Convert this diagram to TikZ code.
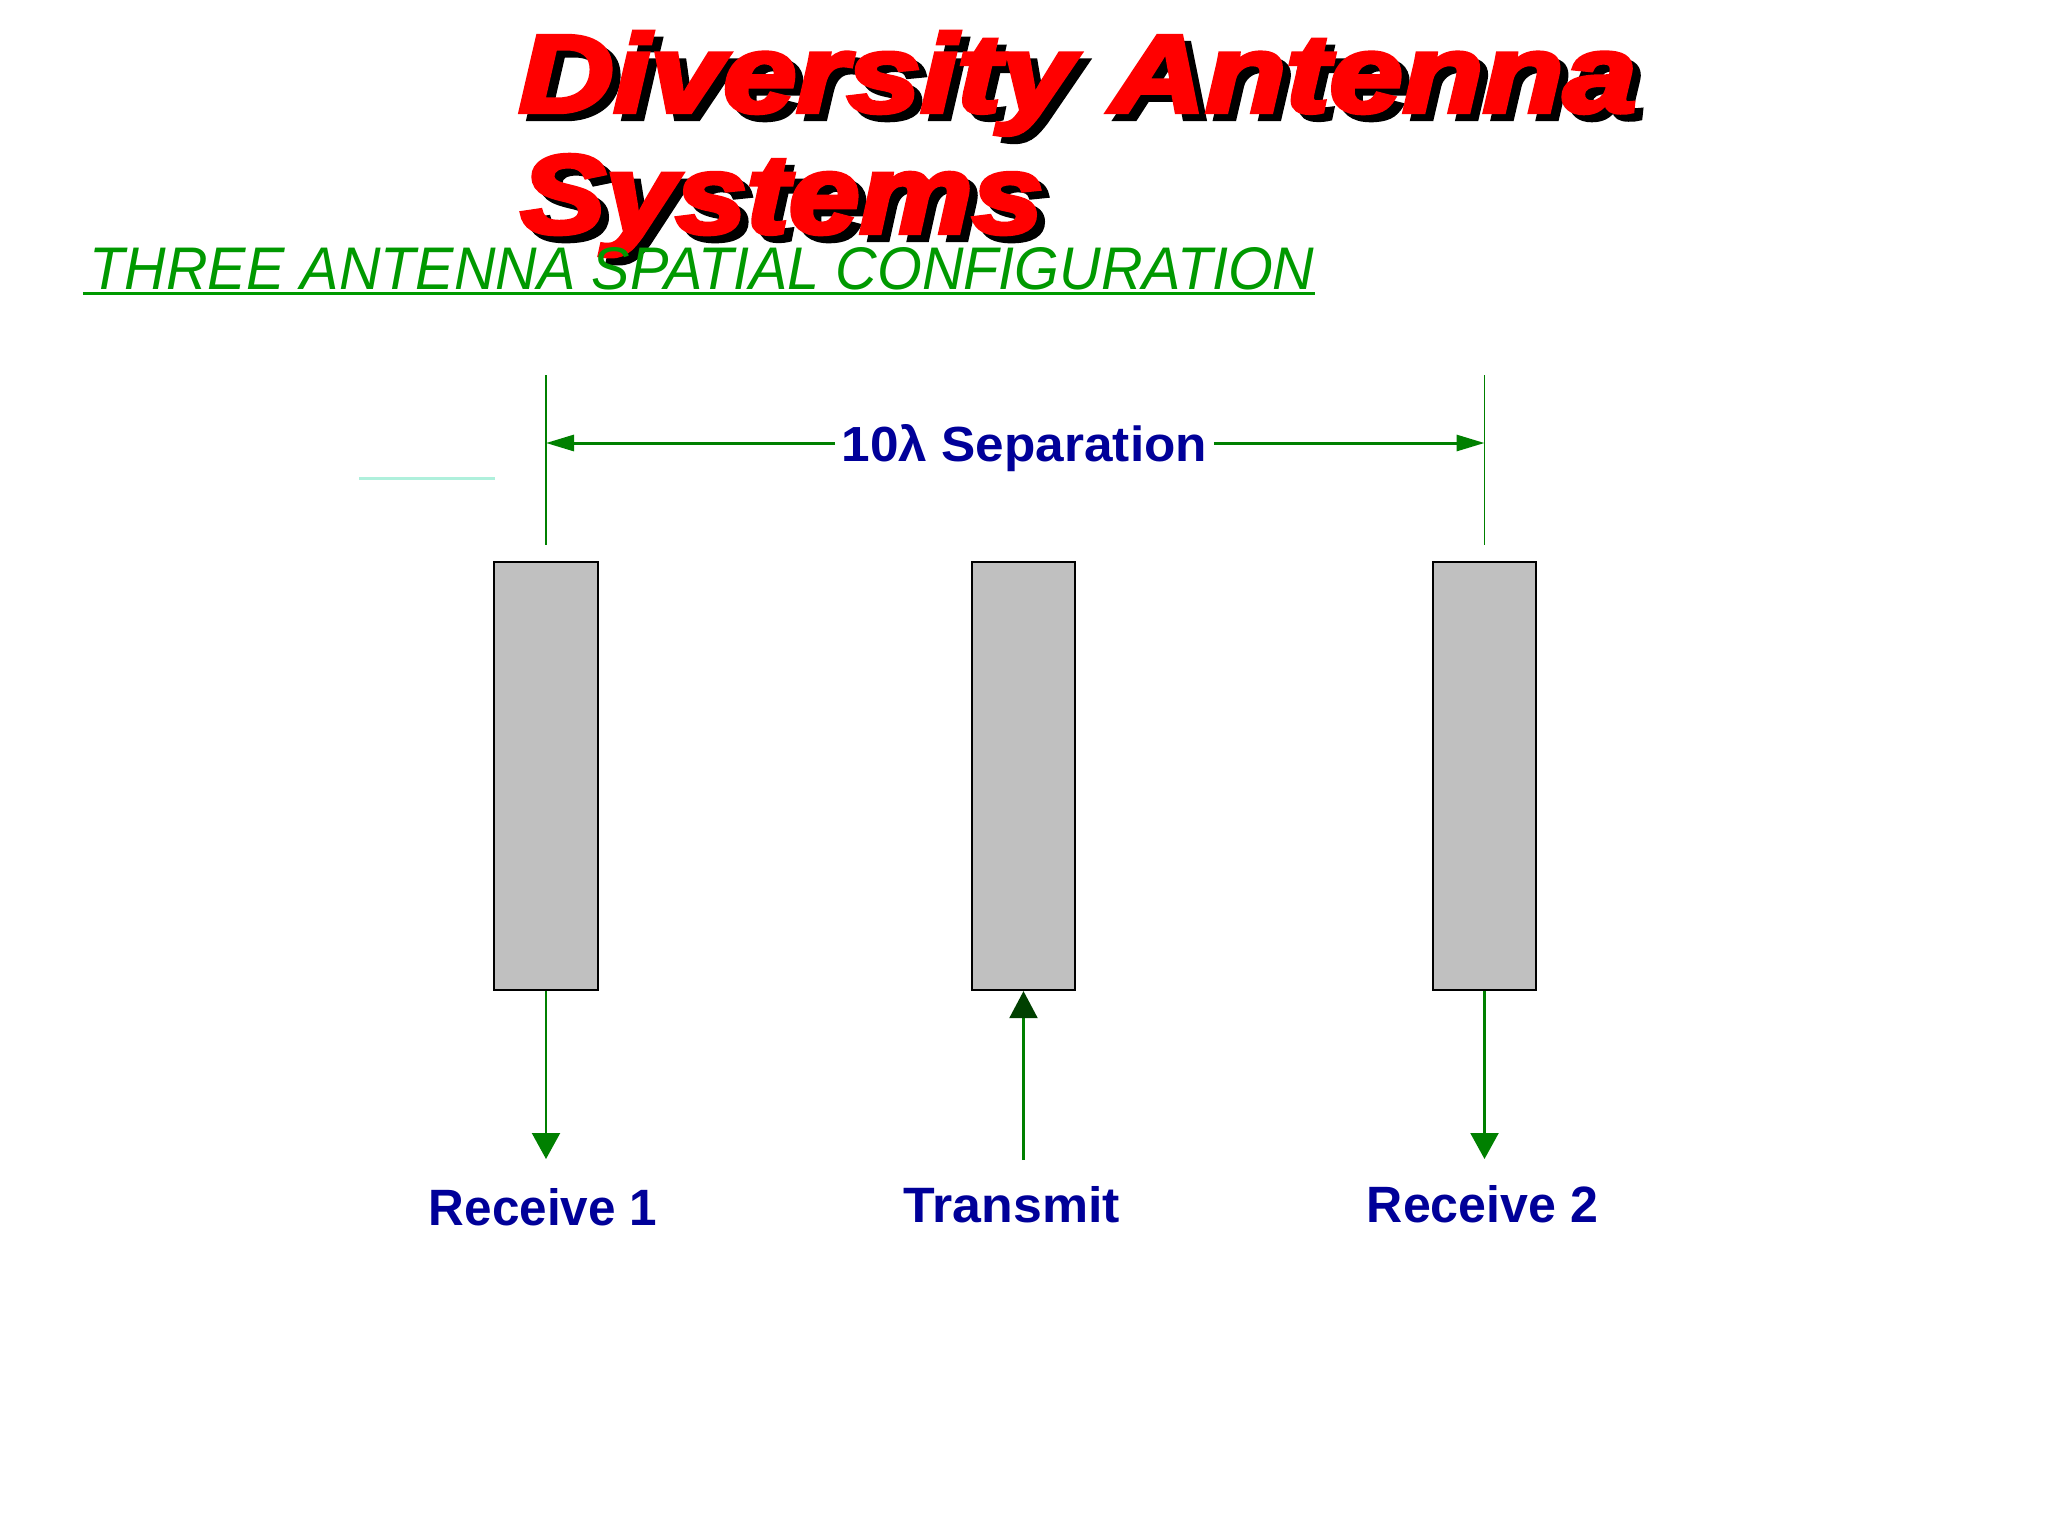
\documentclass[tikz,border=0pt]{standalone}
\usepackage{fontspec}
\setmainfont{Liberation Sans}
\newfontfamily\titlefont{Liberation Sans}[BoldItalicFeatures={FakeBold=4}]
\usetikzlibrary{arrows.meta}
\definecolor{titlered}{RGB}{255,0,0}
\definecolor{subgreen}{RGB}{0,153,0}
\definecolor{arrowgreen}{RGB}{0,128,0}
\definecolor{darkgreen}{RGB}{0,64,0}
\definecolor{labelblue}{RGB}{0,0,153}
\definecolor{boxgray}{RGB}{192,192,192}
\definecolor{paleaqua}{RGB}{175,240,220}
\begin{document}
\begin{tikzpicture}[x=0.01cm,y=-0.01cm,
  antbox/.style={draw=black, fill=boxgray, line width=0.02cm, minimum width=1.03cm, minimum height=4.28cm, inner sep=0pt},
  extline/.style={draw=arrowgreen, line width=0.018cm},
  dimarrow/.style={draw=arrowgreen, line width=0.03cm, -{Triangle[length=0.28cm,width=0.16cm]}},
  feedarrow/.style={draw=arrowgreen, line width=0.022cm, -{Triangle[length=0.26cm,width=0.28cm]}},
  txarrow/.style={draw=arrowgreen, line width=0.022cm, -{Triangle[length=0.27cm,width=0.28cm,color=darkgreen]}},
  lbl/.style={anchor=base, inner sep=0pt, text=labelblue, font=\bfseries},
  ttl/.style={anchor=base west, inner sep=0pt}
]
\useasboundingbox[fill=white] (0,0) rectangle (2048,1536);

% title with shadow
\node[ttl, text=black] (titleshadowA) at (526,119) {\resizebox{11.17cm}{0.80cm}{\titlefont\bfseries\itshape Diversity Antenna}};
\node[ttl, text=titlered] (titleA) at (518,112) {\resizebox{11.17cm}{0.80cm}{\titlefont\bfseries\itshape Diversity Antenna}};
\node[ttl, text=black] (titleshadowB) at (528,240) {\resizebox{5.22cm}{0.78cm}{\titlefont\bfseries\itshape Systems}};
\node[ttl, text=titlered] (titleB) at (520,233) {\resizebox{5.22cm}{0.78cm}{\titlefont\bfseries\itshape Systems}};

% subtitle
\node[ttl, text=subgreen] (sub) at (89,289) {\resizebox{12.24cm}{0.42cm}{\itshape THREE ANTENNA SPATIAL CONFIGURATION}};
\draw[subgreen, line width=0.03cm] ([yshift=-0.04cm,xshift=-0.06cm]sub.base west) -- ([yshift=-0.04cm]sub.base east);

% stray pale line
\draw[paleaqua, line width=0.03cm] (359,478) -- (495,478);

% antennas
\node[antbox] (ant1) at (546,776) {};
\node[antbox] (ant2) at (1023.5,776) {};
\node[antbox] (ant3) at (1484.5,776) {};

% dimension
\coordinate (e1t) at (546,375);
\coordinate (e1b) at (546,545);
\coordinate (e3t) at (1484.5,375);
\coordinate (e3b) at (1484.5,545);
\coordinate (d1) at (546,443);
\coordinate (d3) at (1484.5,443);
\draw[extline] (e1t) -- (e1b);
\draw[extline] (e3t) -- (e3b);
\node[lbl, inner xsep=0.06cm] (sep) at (1024.5,461) {\resizebox{3.65cm}{0.37cm}{10λ Separation}};
\draw[dimarrow] (d1 -| sep.west) -- (d1);
\draw[dimarrow] (d3 -| sep.east) -- (d3);

% feed arrows
\coordinate (r1) at (546,1159);
\coordinate (r3) at (1484.5,1159);
\coordinate (t2) at (1023.5,1160);
\draw[feedarrow] (ant1.south) -- (r1);
\draw[feedarrow] (ant3.south) -- (r3);
\draw[txarrow] (t2) -- (ant2.south);

% labels
\node[lbl] (rx1) at (543,1225) {\resizebox{2.28cm}{0.37cm}{Receive 1}};
\node[lbl] (tx) at (1012,1222) {\resizebox{2.16cm}{0.36cm}{Transmit}};
\node[lbl] (rx2) at (1482.5,1222) {\resizebox{2.31cm}{0.37cm}{Receive 2}};
\end{tikzpicture}
\end{document}
